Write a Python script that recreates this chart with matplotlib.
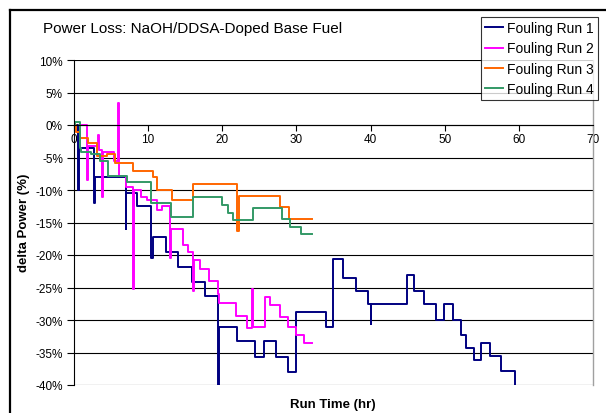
import numpy as np
import matplotlib.pyplot as plt
from matplotlib.lines import Line2D

plt.rcParams['font.family'] = ['Liberation Sans', 'DejaVu Sans']

# step data: each value holds from its time until the next time
run1_t = [0, 0.55, 0.7, 2.7, 2.85, 6.95, 7.05, 8.55, 10.45, 10.6, 12.45, 14.05,
          15.85, 17.65, 19.45, 19.6, 22.05, 24.4, 25.65, 27.2, 28.85, 30.0, 33.95,
          34.9, 36.25, 38.0, 39.6, 40.0, 40.1, 44.95, 45.85, 47.15, 48.85, 49.9,
          51.15, 52.15, 52.85, 53.9, 54.9, 56.15, 57.55, 59.45, 59.6]
run1_v = [0, -10, -3.5, -12, -8, -16, -10.5, -12.5, -20.5, -17.2, -19.5, -21.8,
          -24.2, -26.3, -41, -31, -33.3, -35.7, -33.3, -35.7, -38, -28.7, -31,
          -20.6, -23.5, -25.5, -27.5, -30.6, -27.5, -23.1, -25.5, -27.6, -30, -27.6,
          -30, -32.3, -34.3, -36.2, -33.6, -35.6, -37.8, -41, -41]

run2_t = [0.8, 1.7, 1.85, 3.25, 3.4, 3.75, 3.9, 5.4, 5.95, 6.05, 7.0, 7.95, 8.05,
          9.0, 9.8, 11.2, 11.9, 13.0, 13.15, 14.7, 15.4, 16.0, 16.15, 17.0, 18.2,
          19.4, 19.6, 21.9, 23.4, 24.05, 24.15, 25.8, 26.5, 27.8, 28.8, 30.0, 31.0,
          32.1]
run2_v = [0, -8.5, -3.3, -1.5, -3.8, -11, -4.2, -5.5, 3.4, -7.8, -9.5, -25.3, -10,
          -11, -11.5, -13, -12.5, -20.5, -16, -18.5, -19.5, -25.5, -20.8, -22.2, -24.0,
          -26.0, -27.4, -29.4, -31.3, -25.3, -31.1, -26.4, -27.7, -29.6, -31.0, -32.3,
          -33.5, -33.5]

run3_t = [0, 0.3, 0.8, 1.9, 3.1, 4.4, 5.5, 8.0, 10.6, 11.2, 13.2, 16.0, 21.95,
          22.3, 27.8, 29.0, 32.1]
run3_v = [0, -1, -2, -2.7, -4.7, -4.4, -5.9, -7.0, -8.0, -10.0, -11.5, -9.1, -16.3,
          -10.9, -12.6, -14.4, -14.4]

run4_t = [0, 0.2, 0.8, 1.0, 2.3, 3.5, 4.6, 7.1, 10.4, 13.1, 16.05, 20.0, 20.8,
          21.4, 24.1, 28.1, 29.2, 30.6, 32.1]
run4_v = [0, 0.5, -3.5, -4.2, -4.5, -5.6, -7.8, -8.8, -12.0, -14.1, -11.0, -12.3,
          -13.5, -14.6, -12.8, -14.5, -15.7, -16.8, -16.8]

labels = ['Fouling Run 1', 'Fouling Run 2', 'Fouling Run 3', 'Fouling Run 4']
colors = ['#000080', '#FF00FF', '#FF6600', '#339966']

W, H = 606, 414
fig = plt.figure(figsize=(W / 100, H / 100), dpi=100)
ax = fig.add_axes([74 / W, 1 - 386 / H, (593 - 74) / W, (386 - 61) / H])

runs = [(run1_t, run1_v), (run2_t, run2_v), (run3_t, run3_v), (run4_t, run4_v)]
for (t, v), lab, c in zip(runs, labels, colors):
    ax.plot(t, v, drawstyle='steps-post', color=c, lw=1.4, label=lab)

ax.set_xlim(0, 70)
ax.set_ylim(-40, 10)
ax.set_xticks(np.arange(0, 71, 10))
ax.set_yticks(np.arange(-40, 11, 5))
ax.set_yticklabels(['%d%%' % v for v in np.arange(-40, 11, 5)])
for v in np.arange(-40, 11, 5):
    ax.axhline(v, color='black', lw=0.8, zorder=0.5)

ax.spines['top'].set_visible(False)
ax.spines['bottom'].set_position(('data', 0))
ax.spines['bottom'].set_linewidth(0.8)
ax.spines['left'].set_linewidth(0.8)
ax.spines['right'].set_color('#a0a0a0')
ax.spines['right'].set_linewidth(1.0)
ax.tick_params(axis='x', direction='out', length=4, width=0.8, pad=2, labelsize=8.5)
ax.tick_params(axis='y', direction='out', length=5, width=0.8, pad=3, labelsize=8.5)

fig.text(43 / W, 1 - 29 / H, 'Power Loss: NaOH/DDSA-Doped Base Fuel',
         fontsize=11, va='center', ha='left')
fig.text(333 / W, 1 - 405 / H, 'Run Time (hr)', fontsize=9.5, fontweight='bold',
         ha='center', va='center')
fig.text(24 / W, 1 - 223 / H, 'delta Power (%)', fontsize=9.5, fontweight='bold',
         ha='center', va='center', rotation=90)

leg = fig.legend(loc='upper right', bbox_to_anchor=(598 / W, 1 - 18 / H),
                 fontsize=10, frameon=True, fancybox=False, borderaxespad=0,
                 handlelength=1.3, handletextpad=0.25, labelspacing=0.45,
                 borderpad=0.3)
leg.get_frame().set_edgecolor('black')
leg.get_frame().set_linewidth(0.8)
for line in leg.get_lines():
    line.set_linewidth(1.4)

# chart area frame: top and left edges, the rest runs off the image
fx, fy = 10 / W, 1 - 11 / H
fig.add_artist(Line2D([fx, 1.0], [fy, fy], transform=fig.transFigure,
                      color='black', lw=1.6))
fig.add_artist(Line2D([fx, fx], [fy, 0.0], transform=fig.transFigure,
                      color='black', lw=1.6))

fig.savefig('out.png', dpi=100)
